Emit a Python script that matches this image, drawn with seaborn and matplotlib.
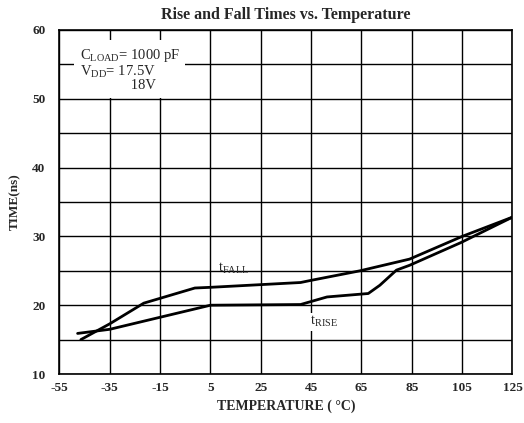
import pandas as pd
import matplotlib.pyplot as plt
import seaborn as sns
import numpy as np

"""
values read off the datasheet chart
"""
fall_temp = [-46.5, -35, -21.5, -1.2, 5, 40.8, 44.8, 64.4, 84.1, 105, 125]
fall_time = [15.0, 17.3, 20.3, 22.5, 22.6, 23.3, 23.6, 25.0, 26.7, 30.0, 32.8]

rise_temp = [-47.8, -35, 5, 40.8, 51.3, 67.7, 72.3, 78.9, 84.1, 104.5, 125]
rise_time = [15.9, 16.5, 20.0, 20.1, 21.2, 21.7, 22.9, 25.1, 25.8, 29.1, 32.8]

x_ticks = [-55, -35, -15, 5, 25, 45, 65, 85, 105, 125]
y_ticks = [10, 20, 30, 40, 50, 60]

data = pd.concat([
    pd.DataFrame({'temp': fall_temp, 'time': fall_time, 'curve': 'fall'}),
    pd.DataFrame({'temp': rise_temp, 'time': rise_time, 'curve': 'rise'}),
])

sns.set_style('white')
plt.rcParams['font.family'] = ['Liberation Serif', 'DejaVu Serif']
plt.rcParams['mathtext.fontset'] = 'stix'

fig = plt.figure(figsize=(5.24, 4.23), dpi=100)
ax = fig.add_axes([0.1135, 0.1158, 0.8645, 0.8133])

sns.lineplot(data=data, x='temp', y='time', units='curve', estimator=None,
             color='black', linewidth=2.0, sort=False, ax=ax)

ax.set_xlim(-55, 125)
ax.set_ylim(10, 60)
ax.set_xticks(x_ticks)
ax.set_xticklabels([str(t) for t in x_ticks])
ax.set_yticks(y_ticks)
ax.set_yticks(np.arange(15, 60, 10), minor=True)
ax.grid(True, which='both', color='black', linewidth=1.0)
ax.tick_params(which='both', length=0, labelsize=9.5, pad=6)
ax.tick_params(axis='y', pad=10)
for lab in ax.get_xticklabels() + ax.get_yticklabels():
    lab.set_fontweight('bold')
for s in ax.spines.values():
    s.set_color('black')
    s.set_linewidth(1.2)

ax.set_title('Rise and Fall Times vs. Temperature', fontsize=11.5, fontweight='bold', pad=8)
ax.set_xlabel('TEMPERATURE ( °C)', fontsize=10, fontweight='bold', labelpad=4)
ax.set_ylabel('TIME(ns)', fontsize=9.5, fontweight='bold', labelpad=8)

ax.text(-47, 57.5, '$\\mathregular{C_{LOAD}}$= 1000 pF\n$\\mathregular{V_{DD}}$= 17.5V\n              18V',
        fontsize=10.5, va='top', ha='left', linespacing=0.95,
        bbox=dict(facecolor='white', edgecolor='none', pad=4))

ax.text(8, 24.3, '$\\mathregular{t_{FALL}}$', fontsize=10.5, ha='left', va='bottom')
ax.text(44.5, 18.7, '$\\mathregular{t_{RISE}}$', fontsize=10.5, ha='left', va='top',
        bbox=dict(facecolor='white', edgecolor='none', pad=1))

plt.savefig('out.png', dpi=100)
